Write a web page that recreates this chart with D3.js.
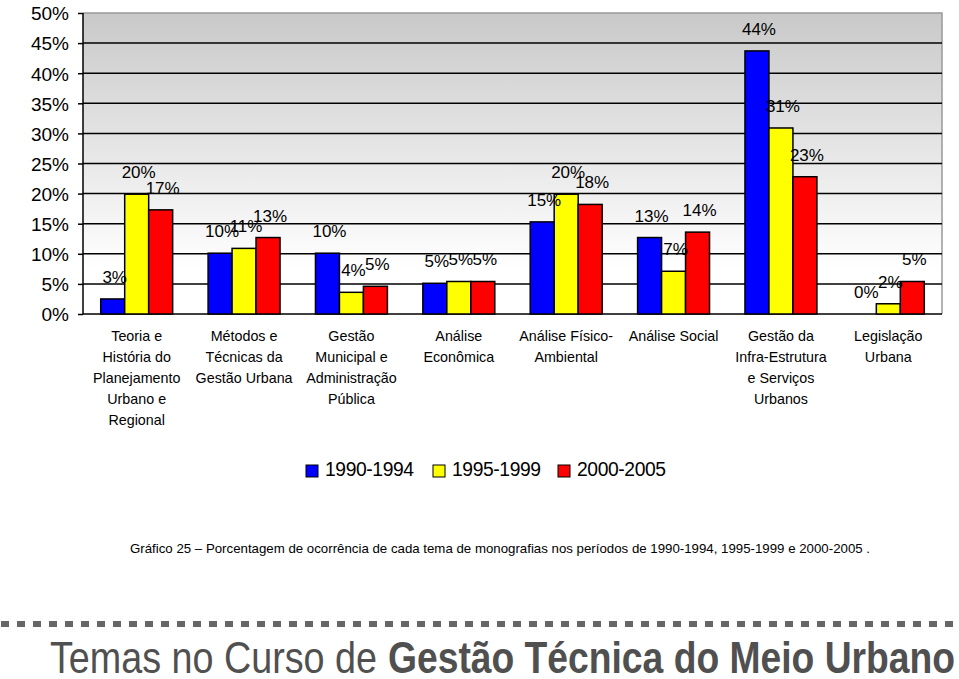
<!DOCTYPE html>
<html><head><meta charset="utf-8">
<script src="https://cdn.jsdelivr.net/npm/d3@7"></script>
<style>body{margin:0;background:#fff}svg{display:block}text{font-family:"Liberation Sans",Arial,sans-serif}</style>
</head><body>
<svg id="c" width="959" height="679"></svg>
<script>
const categories = [
  ["Teoria e","História do","Planejamento","Urbano e","Regional"],
  ["Métodos e","Técnicas da","Gestão Urbana"],
  ["Gestão","Municipal e","Administração","Pública"],
  ["Análise","Econômica"],
  ["Análise Físico-","Ambiental"],
  ["Análise Social"],
  ["Gestão da","Infra-Estrutura","e Serviços","Urbanos"],
  ["Legislação","Urbana"]
];
const seriesNames = ["1990-1994","1995-1999","2000-2005"];
const seriesColors = ["#0000ff","#ffff00","#ff0000"];
const s1990 = [2.5, 10.1, 10.1, 5.1, 15.3, 12.7, 43.7, 0];
const s1995 = [19.9, 10.9, 3.6, 5.4, 19.9, 7.1, 30.9, 1.7];
const s2000 = [17.3, 12.7, 4.6, 5.4, 18.2, 13.6, 22.8, 5.4];
const yTicks = [0,5,10,15,20,25,30,35,40,45,50];
const caption = "Gráfico 25 – Porcentagem de ocorrência de cada tema de monografias nos períodos de 1990-1994, 1995-1999 e 2000-2005 .";
const titleRegular = "Temas no Curso de";
const titleBold = "Gestão Técnica do Meio Urbano";

const series = [s1990, s1995, s2000];
const svg = d3.select("#c");
const L = 83, R = 942, T = 13, B = 314;

const x0 = d3.scaleBand().domain(d3.range(categories.length)).range([L, R]).paddingInner(0.33).paddingOuter(0.165);
const x1 = d3.scaleBand().domain(d3.range(series.length)).range([0, x0.bandwidth()]);
const y = d3.scaleLinear().domain([0, 50]).range([B, T]);

// gradient background
const defs = svg.append("defs");
const g = defs.append("linearGradient").attr("id","bg").attr("x1",0).attr("y1",0).attr("x2",0).attr("y2",1);
g.append("stop").attr("offset","0").attr("stop-color","#c9c9c9");
g.append("stop").attr("offset","0.85").attr("stop-color","#ffffff");
g.append("stop").attr("offset","1").attr("stop-color","#ffffff");
svg.append("rect").attr("x",L).attr("y",T).attr("width",R-L).attr("height",B-T).attr("fill","url(#bg)");
// border top/right
svg.append("path").attr("d",`M${L},${T}H${R}V${B}`).attr("fill","none").attr("stroke","#999").attr("stroke-width",1.5);

// gridlines
svg.append("g").selectAll("line").data(yTicks.filter(d=>d>0 && d<50)).join("line")
  .attr("x1",L).attr("x2",R).attr("y1",d=>y(d)).attr("y2",d=>y(d))
  .attr("stroke","#000").attr("stroke-width",1.5);

// y axis
const yAxis = d3.axisLeft(y).tickValues(yTicks).tickSize(5).tickPadding(9).tickFormat(d=>d+"%");
const ya = svg.append("g").attr("transform",`translate(${L},0)`).call(yAxis);
ya.select(".domain").attr("stroke","#000").attr("stroke-width",1.5).attr("d",`M0,${T}V${B}`);
ya.selectAll(".tick line").attr("stroke","#000").attr("stroke-width",1.5);
ya.selectAll(".tick text").attr("font-size",19).attr("fill","#000").attr("font-family","Liberation Sans, Arial, sans-serif").attr("dy","0.36em");
svg.append("line").attr("x1",L).attr("x2",R).attr("y1",B).attr("y2",B).attr("stroke","#000").attr("stroke-width",1.5);

// bars
const groups = svg.append("g").selectAll("g").data(categories).join("g")
  .attr("transform",(d,i)=>`translate(${x0(i)},0)`);
groups.selectAll("rect").data((d,i)=>series.map((s,j)=>({v:s[i],j}))).join("rect")
  .attr("x",d=>x1(d.j)).attr("width",x1.bandwidth())
  .attr("y",d=>y(d.v)).attr("height",d=>y(0)-y(d.v))
  .attr("fill",d=>seriesColors[d.j]).attr("stroke","#000").attr("stroke-width",1.5);
groups.selectAll("text.v").data((d,i)=>series.map((s,j)=>({v:s[i],j}))).join("text")
  .attr("class","v").attr("x",d=>x1(d.j)+x1.bandwidth()/2+2).attr("y",d=>y(d.v)-16)
  .attr("text-anchor","middle").attr("font-size",17).attr("fill","#000")
  .text(d=>Math.round(d.v)+"%");

// category labels
groups.each(function(lines){
  const t = d3.select(this).append("text").attr("text-anchor","middle").attr("font-size",14.3).attr("fill","#000");
  lines.forEach((ln,k)=>t.append("tspan").attr("x",x0.bandwidth()/2).attr("y",341+k*21).text(ln));
});

// legend
const legX = [306, 433, 558];
const lg = svg.append("g").selectAll("g").data(seriesNames).join("g")
  .attr("transform",(d,i)=>`translate(${legX[i]},465)`);
lg.append("rect").attr("width",12).attr("height",12).attr("fill",(d,i)=>seriesColors[i]).attr("stroke","#000").attr("stroke-width",1);
lg.append("text").attr("x",19).attr("y",10.5).attr("font-size",19.3).attr("fill","#000").attr("letter-spacing","-0.4").text(d=>d);

// caption
svg.append("text").attr("x",130).attr("y",553).attr("font-size",13).attr("fill","#000")
  .attr("textLength",740).attr("lengthAdjust","spacingAndGlyphs").text(caption);

// dashed separator
svg.append("line").attr("x1",1).attr("x2",959).attr("y1",624).attr("y2",624)
  .attr("stroke","#666").attr("stroke-width",6).attr("stroke-dasharray","8,8");

// title
svg.append("text").attr("x",50).attr("y",673).attr("font-size",44).attr("fill","#505050")
  .attr("textLength",327).attr("lengthAdjust","spacingAndGlyphs").text(titleRegular);
svg.append("text").attr("x",388).attr("y",673).attr("font-size",44).attr("font-weight","bold").attr("fill","#505050")
  .attr("textLength",567).attr("lengthAdjust","spacingAndGlyphs").text(titleBold);
</script>
</body></html>
